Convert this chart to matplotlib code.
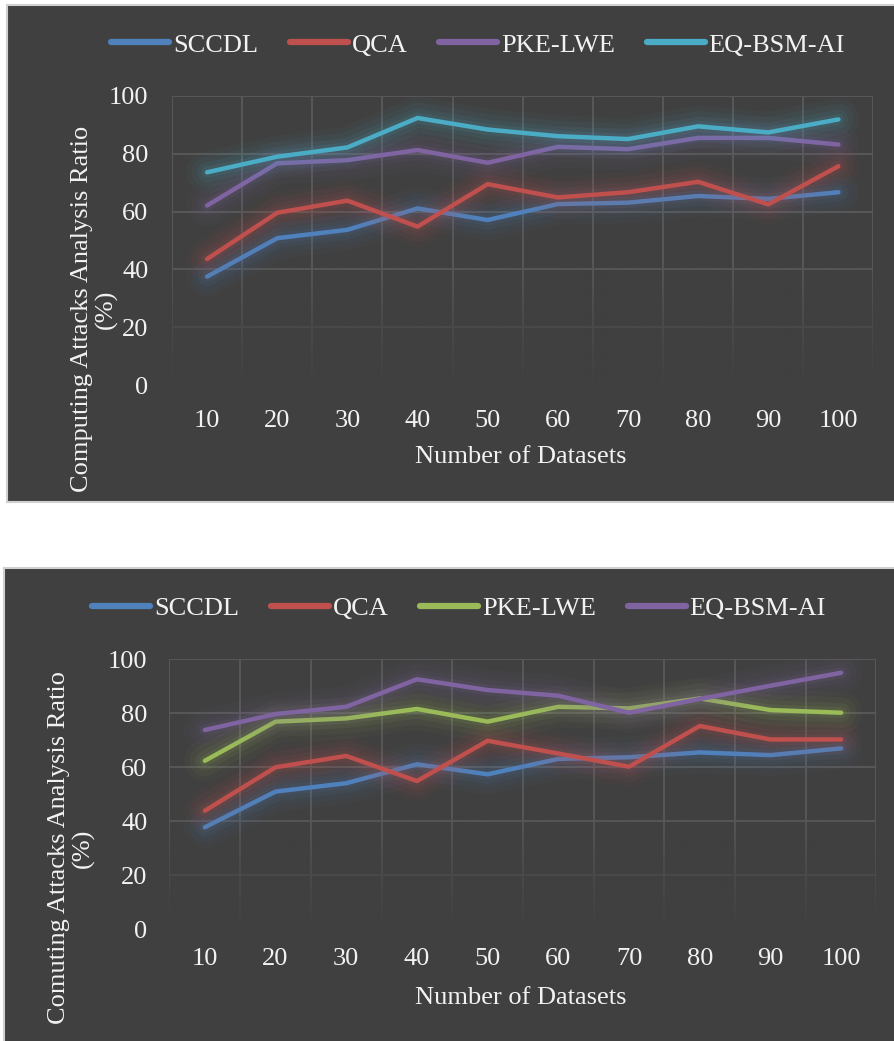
import numpy as np
import matplotlib
matplotlib.use("Agg")
import matplotlib.pyplot as plt
import matplotlib.patheffects as pe
from matplotlib.patches import Rectangle
from matplotlib.lines import Line2D

plt.rcParams['font.family'] = ['Liberation Serif', 'DejaVu Serif']

datasets = [10, 20, 30, 40, 50, 60, 70, 80, 90, 100]
y_ticks = [0, 20, 40, 60, 80, 100]

# chart 1
top_names = ["SCCDL", "QCA", "PKE-LWE", "EQ-BSM-AI"]
top_sccdl = [37.5, 50.8, 53.7, 61.1, 57.1, 62.6, 63.1, 65.4, 64.4, 66.7]
top_qca = [43.6, 59.6, 63.8, 54.8, 69.5, 64.9, 66.7, 70.3, 62.5, 75.7]
top_pke = [62.1, 76.7, 77.8, 81.3, 76.9, 82.4, 81.6, 85.5, 85.5, 83.2]
top_eq = [73.6, 79.0, 82.2, 92.4, 88.4, 86.1, 85.1, 89.5, 87.4, 91.9]

# chart 2
bot_names = ["SCCDL", "QCA", "PKE-LWE", "EQ-BSM-AI"]
bot_sccdl = [37.7, 50.9, 54.0, 61.0, 57.3, 63.0, 63.6, 65.4, 64.4, 66.9]
bot_qca = [43.8, 59.9, 64.1, 54.8, 69.7, 65.0, 60.1, 75.2, 70.2, 70.2]
bot_pke = [62.3, 76.8, 78.0, 81.5, 76.8, 82.3, 81.7, 85.4, 81.1, 80.1]
bot_eq = [73.7, 79.6, 82.3, 92.5, 88.5, 86.4, 80.1, 85.2, 90.1, 94.9]

BLUE = "#4F81BD"
RED = "#C0504D"
PURPLE = "#8064A2"
CYAN = "#4BACC6"
GREEN = "#9BBB59"
BG = "#404040"
GRID = "#5a5a5a"
TXT = "#F2F2F2"
FS = 19

W, H = 895, 1041
fig = plt.figure(figsize=(W / 100, H / 100), dpi=100)
fig.patch.set_facecolor("white")


def fx(px):
    return px / W


def fy(py):
    return 1 - py / H


# dark panels
fig.patches.append(Rectangle((fx(7), fy(502)), fx(900), (502 - 5) / H, transform=fig.transFigure,
                             facecolor=BG, edgecolor="#d0d0d0", lw=1.5, zorder=-5))
fig.patches.append(Rectangle((fx(4), fy(1060)), fx(900), (1060 - 568) / H, transform=fig.transFigure,
                             facecolor=BG, edgecolor="#d0d0d0", lw=1.5, zorder=-5))


def glow(color):
    return [pe.Stroke(linewidth=30, foreground=color, alpha=0.04),
            pe.Stroke(linewidth=22, foreground=color, alpha=0.06),
            pe.Stroke(linewidth=14, foreground=color, alpha=0.08),
            pe.Stroke(linewidth=8, foreground=color, alpha=0.10),
            pe.Normal()]


def draw(ax, series, names, colors, tick_pad):
    x = np.arange(1, len(datasets) + 1)
    ax.set_facecolor(BG)
    for vals, name, col in zip(series, names, colors):
        ax.plot(x, vals, color=col, lw=3.2, solid_capstyle="round",
                solid_joinstyle="round", path_effects=glow(col), zorder=3)
    ax.set_xticks(x)
    ax.set_xticklabels([str(d) for d in datasets])
    ax.set_xticks(np.arange(0.5, len(datasets) + 1), minor=True)
    ax.set_yticks(y_ticks)
    ax.tick_params(axis="both", which="both", length=0, colors=TXT, labelsize=FS)
    ax.tick_params(axis="y", pad=tick_pad[0])
    ax.tick_params(axis="x", pad=tick_pad[1])
    for s in ax.spines.values():
        s.set_visible(False)
    ax.grid(which="minor", axis="x", color=GRID, lw=1.3)
    ax.grid(which="major", axis="y", color=GRID, lw=1.3)
    ax.set_axisbelow(True)
    # fade the lower part of the grid, like the original chart style
    ramp = np.zeros((100, 2, 4))
    ramp[..., :3] = matplotlib.colors.to_rgb(BG)
    ramp[..., 3] = np.linspace(1, 0, 100)[:, None] ** 0.8
    ax.imshow(ramp, extent=(0.45, len(datasets) + 0.55, -1, 42), origin="lower",
              aspect="auto", zorder=1, clip_on=False, interpolation="bilinear")
    ax.set_xlim(0.5, len(datasets) + 0.5)
    ax.set_ylim(0, 100)
    return [Line2D([], [], color=c, lw=4.5, solid_capstyle="round") for c in colors]


ax1 = fig.add_axes([fx(172), fy(385), fx(873.5 - 172), (385 - 96) / H])
h1 = draw(ax1, [top_sccdl, top_qca, top_pke, top_eq], top_names, [BLUE, RED, PURPLE, CYAN], (17, 18))
ax2 = fig.add_axes([fx(169.5), fy(929), fx(876.5 - 169.5), (929 - 659) / H])
h2 = draw(ax2, [bot_sccdl, bot_qca, bot_pke, bot_eq], bot_names, [BLUE, RED, GREEN, PURPLE], (16, 14))

for h, l, cx, cy in [(h1, top_names, 478, 45), (h2, bot_names, 459, 608)]:
    fig.legend(h, l, loc="center", bbox_to_anchor=(fx(cx), fy(cy)), ncol=4, frameon=False,
               fontsize=FS, labelcolor=TXT, handlelength=2.2, handletextpad=0.15,
               columnspacing=1.2)

fig.text(fx(521), fy(457), "Number of Datasets", ha="center", va="center", color=TXT, fontsize=FS)
fig.text(fx(521), fy(998), "Number of Datasets", ha="center", va="center", color=TXT, fontsize=FS)
fig.text(fx(94), fy(309), "Computing Attacks Analysis Ratio\n(%)", rotation=90, ha="center",
         va="center", color=TXT, fontsize=FS, multialignment="center", linespacing=1.1)
fig.text(fx(71), fy(848), "Comuting Attacks Analysis Ratio\n(%)", rotation=90, ha="center",
         va="center", color=TXT, fontsize=FS, multialignment="center", linespacing=1.1)

fig.savefig("out.png", dpi=100, facecolor=fig.get_facecolor())
